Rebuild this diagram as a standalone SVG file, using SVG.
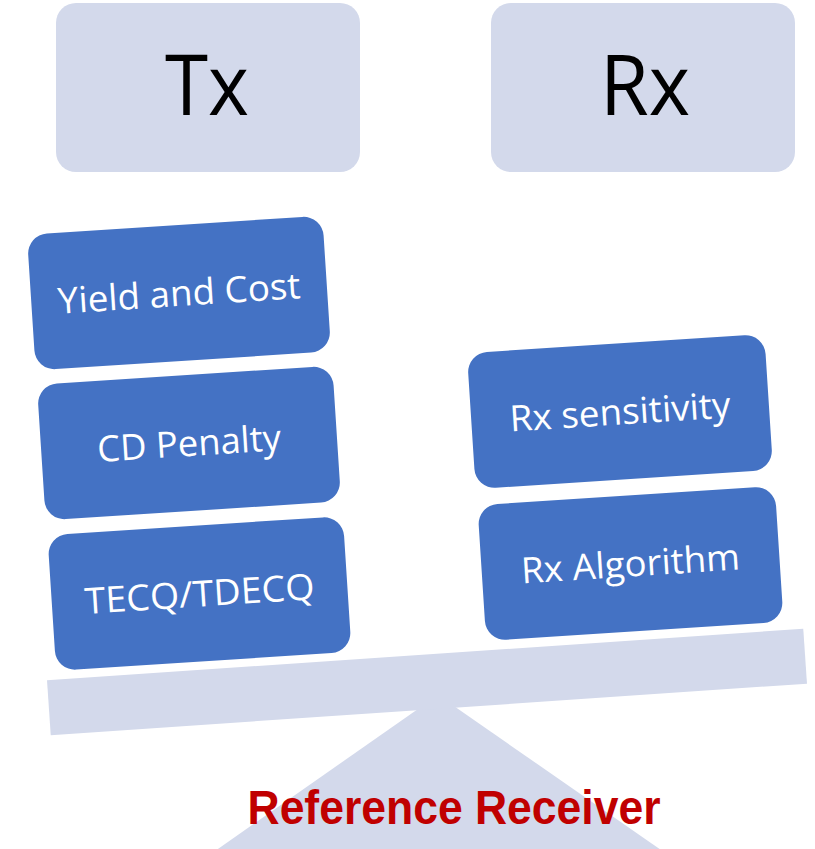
<svg xmlns="http://www.w3.org/2000/svg" width="815" height="849" viewBox="0 0 815 849">
<style>
.light{fill:#D3D9EB}
.blue{fill:#4472C4}
.big{font-family:"Open Sans","Noto Sans",sans-serif;font-size:84px;fill:#000;text-anchor:middle}
.lbl{font-family:"Open Sans","Noto Sans",sans-serif;font-size:36px;fill:#fff;text-anchor:middle}
.red{font-family:"Liberation Sans",Arial,sans-serif;font-weight:bold;font-size:48px;fill:#C00000;text-anchor:middle}
</style>
<g id="tx-header">
<rect class="light" x="56" y="3" width="304" height="169" rx="20"/>
<text class="big" x="207" y="115" textLength="84" lengthAdjust="spacingAndGlyphs">Tx</text>
</g>
<g id="rx-header">
<rect class="light" x="491" y="3" width="304" height="169" rx="20"/>
<text class="big" x="645" y="115" textLength="90" lengthAdjust="spacingAndGlyphs">Rx</text>
</g>
<g id="fulcrum">
<polygon class="light" points="438,695 145,900 733,900"/>
</g>
<g id="beam" transform="translate(427,682) rotate(-3.9)">
<rect class="light" x="-379" y="-27.5" width="758" height="55"/>
</g>
<g id="yield-cost" transform="translate(179,293) rotate(-3.7)">
<rect class="blue" x="-148" y="-68" width="296" height="136" rx="20"/>
<text class="lbl" x="0" y="13" textLength="243" lengthAdjust="spacingAndGlyphs">Yield and Cost</text>
</g>
<g id="cd-penalty" transform="translate(189,443) rotate(-3.7)">
<rect class="blue" x="-148" y="-68" width="296" height="136" rx="20"/>
<text class="lbl" x="0" y="13" textLength="184" lengthAdjust="spacingAndGlyphs">CD Penalty</text>
</g>
<g id="tecq" transform="translate(199.5,593.5) rotate(-3.7)">
<rect class="blue" x="-148" y="-68" width="296" height="136" rx="20"/>
<text class="lbl" x="0" y="13" textLength="230" lengthAdjust="spacingAndGlyphs">TECQ/TDECQ</text>
</g>
<g id="rx-sensitivity" transform="translate(620,411.5) rotate(-3.7)">
<rect class="blue" x="-149" y="-68" width="298" height="136" rx="20"/>
<text class="lbl" x="0" y="13" textLength="221" lengthAdjust="spacingAndGlyphs">Rx sensitivity</text>
</g>
<g id="rx-algorithm" transform="translate(630.5,563.5) rotate(-3.7)">
<rect class="blue" x="-149" y="-68" width="298" height="136" rx="20"/>
<text class="lbl" x="0" y="13" textLength="219" lengthAdjust="spacingAndGlyphs">Rx Algorithm</text>
</g>
<g id="connectors"/>
<g id="caption">
<text class="red" x="454" y="824" textLength="413" lengthAdjust="spacingAndGlyphs">Reference Receiver</text>
</g>
</svg>
